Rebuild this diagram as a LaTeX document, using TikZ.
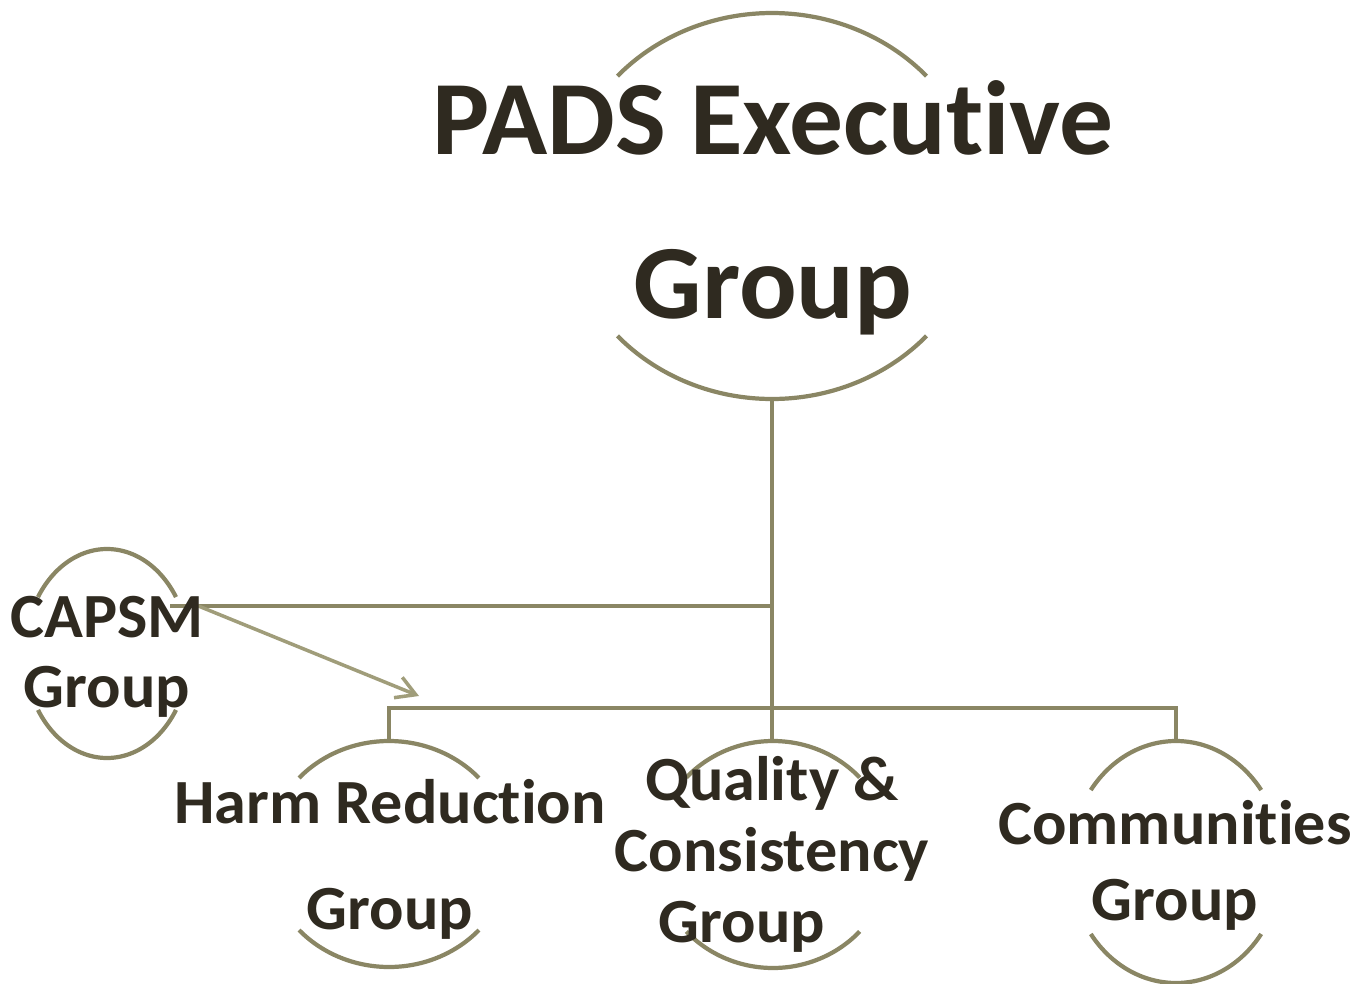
\documentclass[tikz,border=0pt]{standalone}
\usepackage{fontspec}
\setmainfont{Carlito}[Ligatures=NoCommon, FakeStretch=1.02]
\usetikzlibrary{arrows.meta}
\definecolor{linec}{RGB}{138,134,100}
\definecolor{arrc}{RGB}{160,157,122}
\definecolor{txtc}{RGB}{47,42,32}
\tikzset{
  conn/.style={draw=linec, line width=2.5pt},
  ringarc/.style={draw=linec, line width=2.4pt},
  arrowline/.style={draw=arrc, line width=2pt, -{Straight Barb[length=0.38cm,width=0.44cm,line join=miter]}},
  lbl/.style={text=txtc, align=center, anchor=base, inner sep=0pt, font=\bfseries},
}
\newcommand{\ringpair}[5]{%
  \draw[ringarc] plot[domain={180+#5}:{360-#5}, samples=60, smooth] ({#1+#3*cos(\x)},{#2+#4*sin(\x)});
  \draw[ringarc] plot[domain={#5}:{180-#5}, samples=60, smooth] ({#1+#3*cos(\x)},{#2+#4*sin(\x)});
}
\begin{document}
\begin{tikzpicture}[x=0.02cm, y=-0.02cm]
\useasboundingbox (0,0) rectangle (1357,984);
\fill[white] (0,0) rectangle (1357,984);
% rings
\ringpair{772}{206}{209}{193}{42.3}
\ringpair{389}{854}{121.6}{113}{42.3}
\ringpair{773}{854.5}{118}{113.5}{42.7}
\ringpair{1176}{862}{106}{121}{36.5}
\ringpair{107}{653.5}{82}{104.5}{32.7}
% anchor coordinates
\coordinate (padsB) at (772,399);
\coordinate (qualT) at (772,741);
\coordinate (harmT) at (389,741);
\coordinate (commT) at (1176,740);
\coordinate (bus) at (772,708);
\coordinate (capR) at (170,606);
\coordinate (arrS) at (196,605);
\coordinate (arrE) at (419,696);
% connectors
\draw[conn] (padsB) -- (qualT);
\draw[conn] (harmT) -- (harmT |- bus) -- (commT |- bus) -- (commT);
\draw[conn] (capR) -- (capR -| padsB);
\draw[arrowline] (arrS) -- (arrE);
% labels
\node[lbl, font=\bfseries\fontsize{60}{92.8}\selectfont] (pads) at (773,318) {PADS Executive\\Group};
\node[lbl, font=\bfseries\fontsize{35.8}{60.3}\selectfont] (harm) at (390,929) {Harm Reduction\\Group};
\node[lbl, font=\bfseries\fontsize{35.8}{39.8}\selectfont] (capsm) at (107,707) {CAPSM\\Group};
\node[lbl, font=\bfseries\fontsize{35.8}{40.4}\selectfont] (qual) at (772,942) {Quality \&\\Consistency\\Group\hspace*{1.2cm}};
\node[lbl, font=\bfseries\fontsize{35.8}{43.2}\selectfont] (comm) at (1175,920) {Communities\\Group};
\end{tikzpicture}
\end{document}
